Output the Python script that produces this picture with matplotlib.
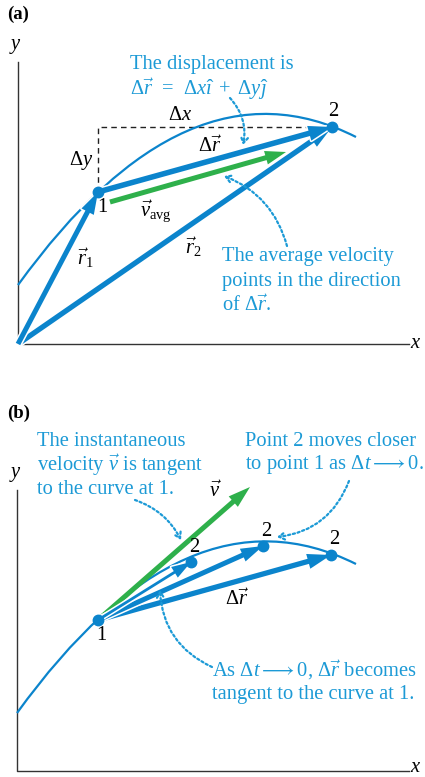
import matplotlib
matplotlib.use("Agg")
import matplotlib.pyplot as plt
from matplotlib.patches import FancyArrowPatch, PathPatch
from matplotlib.path import Path
import matplotlib.patheffects as pe

plt.rcParams['font.family'] = 'Liberation Serif'
plt.rcParams['mathtext.fontset'] = 'custom'
plt.rcParams['mathtext.rm'] = 'Liberation Serif'
plt.rcParams['mathtext.it'] = 'Liberation Serif:italic'
plt.rcParams['mathtext.bf'] = 'Liberation Serif:bold'

BLUE = '#0b84cc'
TXT = '#1c9ad6'
GREEN = '#2eb04b'
AX = '#333333'

# --- geometry (pixel units, y downwards) ---
# panel (a)
origin_a = (18, 344)
p1_a = (98, 192)
p2_a = (332, 127)
curve_a = [(18, 285), (187, 51), (356, 137)]   # quadratic Bezier control points
vavg = [(110, 202), (286, 152)]
# panel (b)
origin_b = (17, 771)
p1_b = (98, 620)
p2_b = [(191, 562), (263, 546), (331, 555)]
curve_b = [(17, 713), (186, 479), (356, 564)]
v_tip = (250, 487)

fig = plt.figure(figsize=(4.25, 7.77), dpi=100)
ax = fig.add_axes([0, 0, 1, 1])
ax.set_xlim(0, 425)
ax.set_ylim(777, 0)
ax.axis('off')


def arrow(a, b, color=BLUE, tw=3.6, hw=10, hl=15, white=False, z=3):
    st = f"simple,head_length={hl},head_width={hw},tail_width={tw}"
    p = FancyArrowPatch(a, b, arrowstyle=st, mutation_scale=1, color=color,
                        shrinkA=0, shrinkB=0, zorder=z, lw=0)
    if white:
        p.set_path_effects([pe.withStroke(linewidth=2.2, foreground='white')])
    ax.add_patch(p)


def dotted(a, b, rad):
    ax.annotate('', xy=b, xytext=a,
                arrowprops=dict(arrowstyle='->,head_length=0.4,head_width=0.25',
                                color=TXT, lw=1.6, ls=(0, (1, 1.2)),
                                connectionstyle=f'arc3,rad={rad}',
                                shrinkA=0, shrinkB=0), zorder=6)


def curve(pts):
    path = Path(pts, [Path.MOVETO, Path.CURVE3, Path.CURVE3])
    ax.add_patch(PathPatch(path, fc='none', ec=BLUE, lw=1.6, zorder=2))


def axes_lines(o, ytop, xright):
    ax.plot([o[0], o[0], xright], [ytop, o[1], o[1]], color=AX, lw=1.0, zorder=1)


FS = 14.8

# ================= panel (a) =================
ax.text(7, 14, '(a)', fontsize=13.5, fontweight='bold', va='center', ha='left')
axes_lines(origin_a, 62, 409)
ax.text(15, 47, '$y$', fontsize=FS, ha='center', va='center')
ax.text(416, 344, '$x$', fontsize=FS, ha='center', va='center')
curve(curve_a)
ax.plot([p1_a[0], p1_a[0], p2_a[0]], [p1_a[1], p2_a[1], p2_a[1]],
        color='#222222', lw=1.0, ls=(0, (4, 3)), zorder=1)
arrow(origin_a, p2_a, tw=3.8, hw=11, hl=17, white=True)
arrow(origin_a, p1_a, tw=3.6, hw=10, hl=16, white=True, z=4)
arrow(p1_a, p2_a, tw=4.0, hw=11, hl=17, white=True, z=4)
arrow(vavg[0], vavg[1], color=GREEN, tw=3.6, hw=10, hl=15)
ax.plot(*zip(p1_a, p2_a), ls='none', marker='o', ms=7.5, color=BLUE, zorder=5)

ax.text(180, 116, r'$\Delta x$', fontsize=FS, ha='center', va='center')
ax.text(81, 160, r'$\Delta y$', fontsize=FS, ha='center', va='center')
ax.text(333, 111, '2', fontsize=FS, ha='center', va='center')
ax.text(102, 207, '1', fontsize=FS, ha='center', va='center')
ax.text(210, 147, r'$\Delta\vec{r}$', fontsize=FS, ha='center', va='center')
ax.text(156, 212, r'$\vec{v}_{\rm avg}$', fontsize=FS, ha='center', va='center')
ax.text(85, 258, r'$\vec{r}_1$', fontsize=FS, ha='center', va='center')
ax.text(193, 247, r'$\vec{r}_2$', fontsize=FS, ha='center', va='center')

ax.text(130, 65, 'The displacement is', fontsize=FS, color=TXT, va='center')
ax.text(130, 89,
        r'$\Delta\vec{r}\;\:=\;\:\Delta x\hat{\imath}\;\:+\;\:\Delta y\hat{\jmath}$',
        fontsize=FS, color=TXT, va='center')
for i, s in enumerate(['The average velocity', 'points in the direction',
                       r'of $\Delta\vec{r}$.']):
    ax.text(222, 257 + i * 24.5, s, fontsize=FS, color=TXT, va='center')
dotted((230, 98), (243, 145), -0.25)
dotted((287, 246), (224, 176), 0.25)

# ================= panel (b) =================
ax.text(7, 413, '(b)', fontsize=13.5, fontweight='bold', va='center', ha='left')
axes_lines(origin_b, 490, 409)
ax.text(15, 474, '$y$', fontsize=FS, ha='center', va='center')
ax.text(416, 767, '$x$', fontsize=FS, ha='center', va='center')
curve(curve_b)
arrow(p1_b, v_tip, color=GREEN, tw=3.6, hw=10, hl=16, z=3)
arrow(p1_b, p2_b[2], tw=3.8, hw=11, hl=17, white=True, z=4)
arrow(p1_b, p2_b[1], tw=3.6, hw=10, hl=16, white=True, z=4)
arrow(p1_b, p2_b[0], tw=2.0, hw=9, hl=14, white=True, z=4)
ax.plot(*zip(p1_b, *p2_b), ls='none', marker='o', ms=7.5, color=BLUE, zorder=5)

for (x, y) in p2_b:
    ax.text(x + 3, y - 15, '2', fontsize=FS, ha='center', va='center')
ax.text(101, 635, '1', fontsize=FS, ha='center', va='center')
ax.text(215, 492, r'$\vec{v}$', fontsize=FS, ha='center', va='center')
ax.text(237, 600, r'$\Delta\vec{r}$', fontsize=FS, ha='center', va='center')

for i, s in enumerate(['The instantaneous', r'velocity $\vec{v}$ is tangent',
                       'to the curve at 1.']):
    ax.text(37, 441 + i * 24, s, fontsize=FS, color=TXT, va='center')
for i, s in enumerate(['Point 2 moves closer',
                       r'to point 1 as $\Delta t \longrightarrow 0$.']):
    ax.text(245, 441 + i * 24, s, fontsize=FS, color=TXT, va='center')
for i, s in enumerate([r'As $\Delta t \longrightarrow 0$, $\Delta\vec{r}$ becomes',
                       'tangent to the curve at 1.']):
    ax.text(212, 670 + i * 24, s, fontsize=FS, color=TXT, va='center')
dotted((135, 500), (181, 540), -0.2)
dotted((349, 481), (277, 537), -0.3)
dotted((212, 667), (160, 590), -0.3)

fig.savefig('out.png', dpi=100)
